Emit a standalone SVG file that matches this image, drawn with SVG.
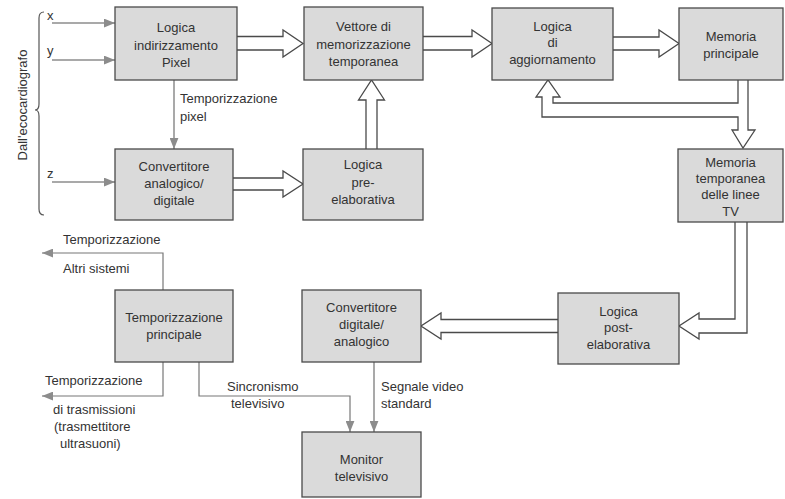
<svg xmlns="http://www.w3.org/2000/svg" width="785" height="499" viewBox="0 0 785 499">
<defs>
<marker id="ga" viewBox="0 0 10 8" refX="10" refY="4" markerWidth="11" markerHeight="9" markerUnits="userSpaceOnUse" orient="auto">
<path d="M0,0 L10,4 L0,8 Z" fill="#8c8c8c"/>
</marker>
<style>
.box{fill:#dadada;stroke:#4a4a4a;stroke-width:1.3}
.t{font-family:"Liberation Sans",Arial,sans-serif;font-size:13px;fill:#333;text-anchor:middle}
.l{font-family:"Liberation Sans",Arial,sans-serif;font-size:13px;fill:#333}
.h{fill:none;stroke:#4a4a4a;stroke-width:1.3;stroke-linejoin:miter}
.g{fill:none;stroke:#8c8c8c;stroke-width:1.5}
.k{fill:none;stroke:#777;stroke-width:1.2}
</style>
</defs>
<rect width="785" height="499" fill="#ffffff"/>

<g id="connectors">
<path class="h" d="M237,36.5 H283 V30 L303,43.5 L283,57 V50 H237"/>
<path class="h" d="M423,36.5 H472 V30 L492,43.5 L472,57 V50 H423"/>
<path class="h" d="M613,37 H659 V30 L679,43.5 L659,57 V50 H613"/>
<path class="h" d="M233,178 H283 V171 L303,184 L283,197 V190 H233"/>
<path class="h" d="M366,149 V100 H358.5 L371.5,80 L384.5,100 H377 V149"/>
<path class="h" d="M738,80 V103 H553 V97 H560 L548,80 L536,97 H542 V117 H738 V130 H732 L743,148 L755,130 H748 V80"/>
<path class="h" d="M735,222 V319 H699 V313 L679,326 L699,339 V333 H747 V222"/>
<path class="h" d="M558,319.5 H441 V313 L421,326 L441,339 V332.5 H558"/>
<line class="g" x1="52" y1="23" x2="115" y2="23" marker-end="url(#ga)"/>
<line class="g" x1="52" y1="60" x2="115" y2="60" marker-end="url(#ga)"/>
<line class="g" x1="52" y1="182" x2="115" y2="182" marker-end="url(#ga)"/>
<line class="g" x1="174" y1="80" x2="174" y2="149" marker-end="url(#ga)"/>
<polyline class="k" points="163,290 163,253 42,253" marker-end="url(#ga)"/>
<polyline class="k" points="163,362 163,396 42,396" marker-end="url(#ga)"/>
<polyline class="k" points="199,362 199,396 350,396 350,432" marker-end="url(#ga)"/>
<line class="g" x1="374" y1="362" x2="374" y2="432" marker-end="url(#ga)"/>
<path d="M44,12 Q39,12 39,18 V104 Q39,110 35,110 Q39,110 39,116 V209 Q39,215 44,215" fill="none" stroke="#555" stroke-width="1.2"/>
</g>

<g id="labels">
<text class="l" x="47" y="20">x</text>
<text class="l" x="47" y="55">y</text>
<text class="l" x="47" y="178">z</text>
<text class="l" x="27" y="105" transform="rotate(-90 27 105)" text-anchor="middle">Dall'ecocardiografo</text>
<text class="l" x="180" y="103">Temporizzazione</text>
<text class="l" x="180" y="121">pixel</text>
<text class="l" x="63" y="244">Temporizzazione</text>
<text class="l" x="63" y="273">Altri sistemi</text>
<text class="l" x="45" y="385">Temporizzazione</text>
<text class="l" x="53" y="414">di trasmissioni</text>
<text class="l" x="54" y="431">(trasmettitore</text>
<text class="l" x="60" y="448">ultrasuoni)</text>
<text class="l" x="227" y="391">Sincronismo</text>
<text class="l" x="231" y="408">televisivo</text>
<text class="l" x="381" y="391">Segnale video</text>
<text class="l" x="381" y="408">standard</text>
</g>

<g id="n1"><rect class="box" x="115" y="7" width="122" height="73"/>
<text class="t" x="176" y="32">Logica</text><text class="t" x="176" y="50">indirizzamento</text><text class="t" x="176" y="67">Pixel</text></g>
<g id="n2"><rect class="box" x="115" y="149" width="118" height="71"/>
<text class="t" x="174" y="171">Convertitore</text><text class="t" x="174" y="188">analogico/</text><text class="t" x="174" y="205">digitale</text></g>
<g id="n3"><rect class="box" x="304" y="7" width="119" height="73"/>
<text class="t" x="363.5" y="31">Vettore di</text><text class="t" x="363.5" y="49">memorizzazione</text><text class="t" x="363.5" y="66">temporanea</text></g>
<g id="n4"><rect class="box" x="303" y="149" width="120" height="71"/>
<text class="t" x="363" y="169">Logica</text><text class="t" x="363" y="187">pre-</text><text class="t" x="363" y="204">elaborativa</text></g>
<g id="n5"><rect class="box" x="492" y="8" width="121" height="72"/>
<text class="t" x="552.5" y="31">Logica</text><text class="t" x="552.5" y="47">di</text><text class="t" x="552.5" y="64">aggiornamento</text></g>
<g id="n6"><rect class="box" x="679" y="8" width="104" height="72"/>
<text class="t" x="731" y="41">Memoria</text><text class="t" x="731" y="58">principale</text></g>
<g id="n7"><rect class="box" x="678" y="149" width="105" height="73"/>
<text class="t" x="730.5" y="167">Memoria</text><text class="t" x="730.5" y="183">temporanea</text><text class="t" x="730.5" y="199">delle linee</text><text class="t" x="730.5" y="216">TV</text></g>
<g id="n8"><rect class="box" x="558" y="293" width="121" height="71"/>
<text class="t" x="618.5" y="316">Logica</text><text class="t" x="618.5" y="332">post-</text><text class="t" x="618.5" y="349">elaborativa</text></g>
<g id="n9"><rect class="box" x="302" y="290" width="119" height="72"/>
<text class="t" x="361.5" y="312">Convertitore</text><text class="t" x="361.5" y="329">digitale/</text><text class="t" x="361.5" y="346">analogico</text></g>
<g id="n10"><rect class="box" x="302" y="432" width="119" height="65"/>
<text class="t" x="361.5" y="464">Monitor</text><text class="t" x="361.5" y="481">televisivo</text></g>
<g id="n11"><rect class="box" x="115" y="290" width="118" height="72"/>
<text class="t" x="174" y="322">Temporizzazione</text><text class="t" x="174" y="339">principale</text></g>
</svg>
